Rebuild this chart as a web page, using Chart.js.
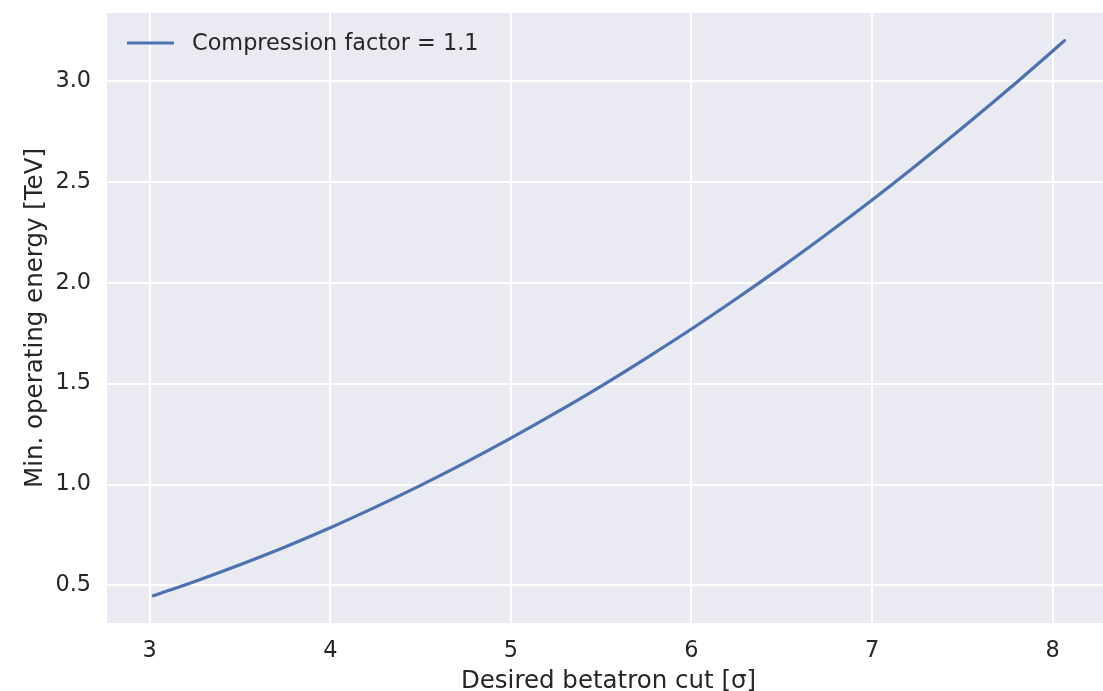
<!DOCTYPE html>
<html>
<head>
<meta charset="utf-8">
<script src="https://cdn.jsdelivr.net/npm/chart.js@4/dist/chart.umd.min.js"></script>
<style>
  html, body { margin: 0; padding: 0; background: #ffffff; overflow: hidden; width: 1103px; height: 691px; }
  #wrap { width: 1103px; height: 691px; overflow: hidden; position: relative; }
  canvas { display: block; }
</style>
</head>
<body>
<div id="wrap"><canvas id="c" width="1112" height="691" style="width:1112px;height:691px"></canvas></div>
<script>
// Data
const sigmaCut = [3.02, 3.25, 3.5, 3.75, 4.0, 4.25, 4.5, 4.75, 5.0, 5.25, 5.5, 5.75, 6.0, 6.25, 6.5, 6.75, 7.0, 7.25, 7.5, 7.75, 8.0, 8.065];
const minEnergy = [0.449, 0.52, 0.603, 0.691, 0.786, 0.888, 0.996, 1.11, 1.23, 1.356, 1.488, 1.627, 1.771, 1.922, 2.079, 2.242, 2.41, 2.586, 2.768, 2.955, 3.149, 3.20];
const xTicks = [3, 4, 5, 6, 7, 8];
const yTicks = [0.5, 1.0, 1.5, 2.0, 2.5, 3.0];
const seriesLabel = 'Compression factor = 1.1';
const xTitle = 'Desired betatron cut [σ]';
const yTitle = 'Min. operating energy [TeV]';

const FONT = "'DejaVu Sans', sans-serif";
const TEXT = '#262626';

const bgPlugin = {
  id: 'bg',
  beforeDraw(chart) {
    const { ctx, chartArea: a } = chart;
    ctx.save();
    ctx.fillStyle = '#EAEAF2';
    ctx.fillRect(a.left, a.top, a.right - a.left, a.bottom - a.top);
    ctx.restore();
  }
};

const legendPlugin = {
  id: 'innerLegend',
  afterDatasetsDraw(chart) {
    const { ctx, chartArea: a } = chart;
    const ds = chart.data.datasets[0];
    ctx.save();
    const y = a.top + 30;
    ctx.strokeStyle = ds.borderColor;
    ctx.lineWidth = 3;
    ctx.lineCap = 'butt';
    ctx.beginPath();
    ctx.moveTo(a.left + 20, y);
    ctx.lineTo(a.left + 67, y);
    ctx.stroke();
    ctx.fillStyle = TEXT;
    ctx.font = "22.4px " + FONT;
    ctx.textBaseline = 'middle';
    ctx.textAlign = 'left';
    ctx.fillText(ds.label, a.left + 85, y + 1);
    ctx.restore();
  }
};

new Chart(document.getElementById('c'), {
  type: 'line',
  data: {
    datasets: [{
      label: seriesLabel,
      data: sigmaCut.map((x, i) => ({ x: x, y: minEnergy[i] })),
      borderColor: '#4C72B0',
      borderWidth: 3.2,
      pointRadius: 0,
      fill: false,
      tension: 0.4,
      borderCapStyle: 'round'
    }]
  },
  options: {
    responsive: false,
    animation: false,
    devicePixelRatio: 1,
    layout: { padding: { top: 13, right: 2, left: 0, bottom: 0 } },
    plugins: { legend: { display: false }, tooltip: { enabled: false } },
    scales: {
      x: {
        type: 'linear',
        min: 2.764,
        max: 8.317,
        afterBuildTicks(s) { s.ticks = xTicks.map(v => ({ value: v })); },
        afterFit(s) { s.height = 68; s.paddingLeft = 0; s.paddingRight = 0; },
        grid: { color: '#ffffff', lineWidth: 2, drawTicks: false },
        border: { display: false },
        ticks: {
          color: TEXT, font: { family: FONT, size: 22.4 }, padding: 15,
          maxRotation: 0, callback: v => String(v)
        },
        title: {
          display: true, text: xTitle, color: TEXT,
          font: { family: FONT, size: 24.5, lineHeight: 0.8 }, padding: { top: 0, bottom: 0 }
        }
      },
      y: {
        type: 'linear',
        min: 0.314,
        max: 3.337,
        afterBuildTicks(s) { s.ticks = yTicks.map(v => ({ value: v })); },
        afterFit(s) { s.width = 107; s.paddingTop = 0; s.paddingBottom = 0; },
        grid: { color: '#ffffff', lineWidth: 2, drawTicks: false },
        border: { display: false },
        ticks: {
          color: TEXT, font: { family: FONT, size: 22.4 }, padding: 16,
          callback: v => Number(v).toFixed(1)
        },
        title: {
          display: true, text: yTitle, color: TEXT,
          font: { family: FONT, size: 24.5, lineHeight: 1 }, padding: { top: 23, bottom: 0 }
        }
      }
    }
  },
  plugins: [bgPlugin, legendPlugin]
});
</script>
</body>
</html>
